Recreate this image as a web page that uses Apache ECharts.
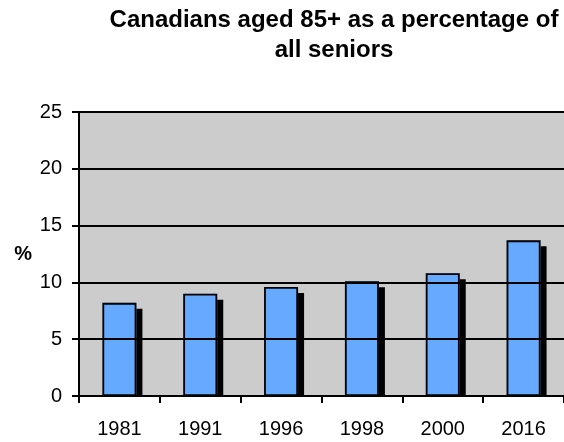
<!DOCTYPE html>
<html>
<head>
<meta charset="utf-8">
<script src="https://cdn.jsdelivr.net/npm/echarts@6/dist/echarts.min.js"></script>
<style>html,body{margin:0;padding:0;background:#fff;}#c{width:564px;height:442px;}</style>
</head>
<body>
<div id="c"></div>
<script>
const titleText = "Canadians aged 85+ as a percentage of\nall seniors";
const yAxisName = "%";
const categories = ["1981", "1991", "1996", "1998", "2000", "2016"];
const values = [8.2, 9.0, 9.6, 10.1, 10.8, 13.7];
const yTicks = [0, 5, 10, 15, 20, 25];

const chart = echarts.init(document.getElementById('c'), null, {renderer: 'canvas'});
const font = '"Liberation Sans", Arial, sans-serif';
chart.setOption({
  animation: false,
  backgroundColor: '#ffffff',
  title: {
    text: titleText,
    left: 334, top: 5, padding: 0, textAlign: 'center',
    textStyle: {fontFamily: font, fontSize: 24, fontWeight: 'bold', color: '#000', lineHeight: 30}
  },
  grid: {left: 79, top: 112, right: -7, bottom: 46, show: true, backgroundColor: '#cccccc', borderWidth: 0},
  xAxis: {
    type: 'category', data: categories, z: 10,
    axisLine: {lineStyle: {color: '#000', width: 2}},
    axisTick: {show: true, length: 7, lineStyle: {color: '#000', width: 2}},
    axisLabel: {fontFamily: font, fontSize: 20, color: '#000', margin: 23}
  },
  yAxis: {
    type: 'value', min: yTicks[0], max: yTicks[yTicks.length - 1], interval: 5, z: 10,
    name: yAxisName, nameLocation: 'middle', nameGap: 47, nameRotate: 0,
    nameTextStyle: {fontFamily: font, fontSize: 20, fontWeight: 'bold', color: '#000', padding: [8, 0, 0, 0]},
    axisLine: {show: true, lineStyle: {color: '#000', width: 2}},
    axisTick: {show: true, length: 7, lineStyle: {color: '#000', width: 2}},
    axisLabel: {fontFamily: font, fontSize: 20, color: '#000', margin: 17},
    splitLine: {show: true, lineStyle: {color: '#000', width: 2}}
  },
  graphic: [
    {type: 'line', z: 9, shape: {x1: 79, y1: 112, x2: 564, y2: 112}, style: {stroke: '#808080', lineWidth: 2}},
    {type: 'rect', z: 9, shape: {x: 80, y: 397, width: 484, height: 8}, style: {fill: '#ffffff'}}
  ],
  series: [{
    type: 'bar', data: values, barWidth: 34,
    itemStyle: {color: '#66aaff', borderWidth: 0,
      shadowColor: '#000', shadowOffsetX: 6, shadowOffsetY: 6, shadowBlur: 0}
  }, {
    type: 'bar', data: values, barWidth: 34, barGap: '-100%',
    itemStyle: {color: 'rgba(0,0,0,0)', borderColor: '#000', borderWidth: 1.8}
  }]
});
</script>
</body>
</html>
